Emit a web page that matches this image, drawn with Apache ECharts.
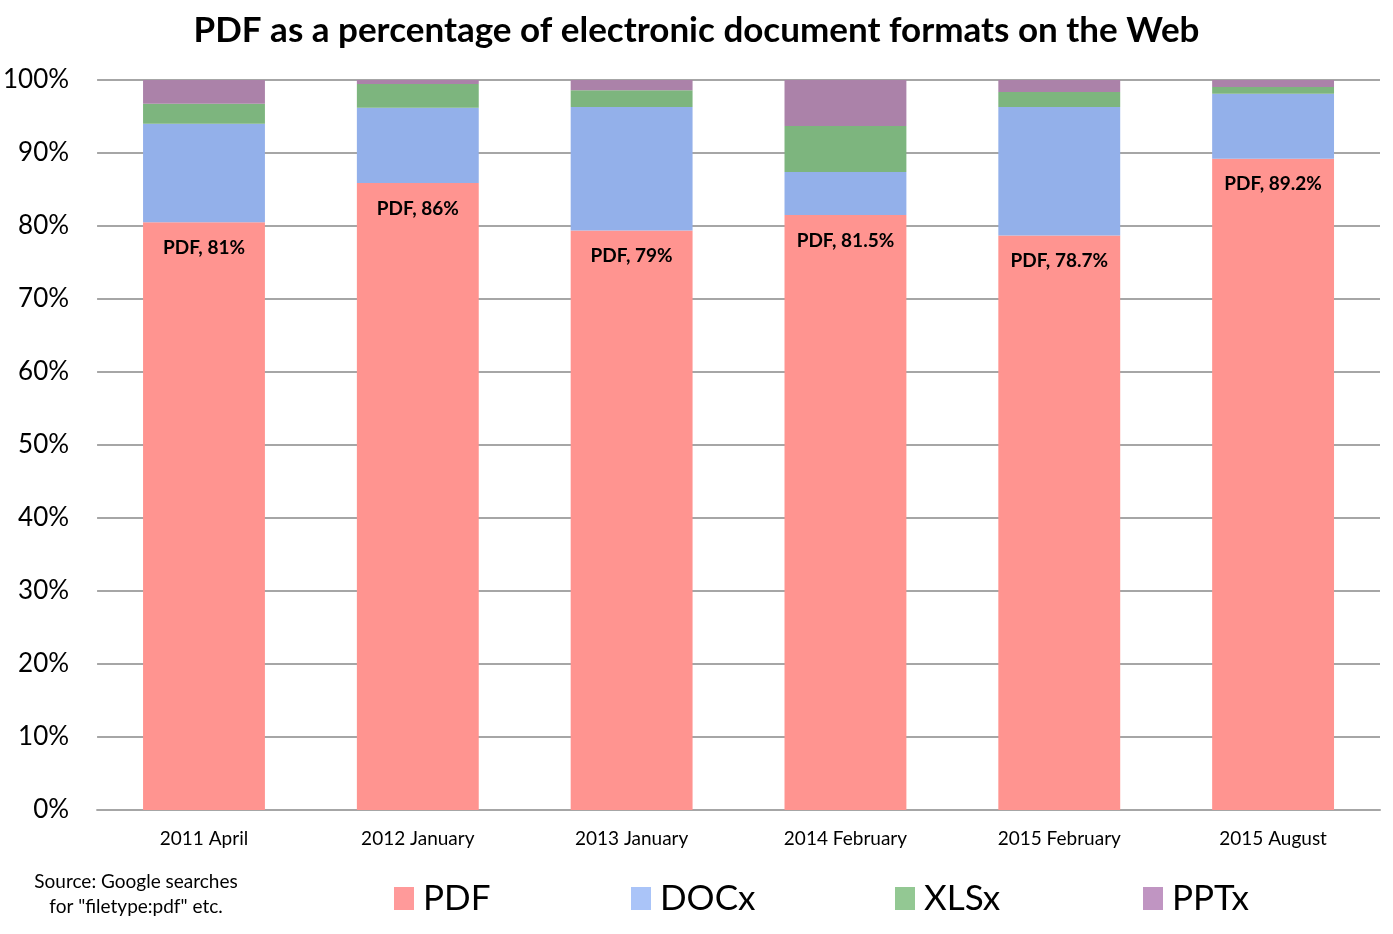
<!DOCTYPE html>
<html lang="en">
    <head>
        <meta charset="UTF-8">
        <title>PDF share of document formats</title>
        <script src="https://cdn.jsdelivr.net/npm/echarts@6/dist/echarts.min.js"></script>
        <style>
            html, body { margin: 0; padding: 0; background: #fff; }
        </style>
    </head>
    <body>
        <div id="main" style="width: 1393px;height:934px;"></div>
        <script>
            var dates = ['2011 April', '2012 January', '2013 January', '2014 February', '2015 February', '2015 August'];
            var pdf  = [80.5, 85.9, 79.4, 81.5, 78.7, 89.2];
            var docx = [13.5, 10.3, 16.9, 5.9, 17.6, 8.9];
            var xlsx = [2.75, 3.25, 2.3, 6.3, 2.05, 0.94];
            var pptx = [3.25, 0.55, 1.4, 6.3, 1.65, 0.96];
            var pdfLabels = ['81%', '86%', '79%', '81.5%', '78.7%', '89.2%'];
            var yTicks = [0, 10, 20, 30, 40, 50, 60, 70, 80, 90, 100];

            var font = 'Lato';
            var myChart = echarts.init(document.getElementById('main'));

            // one legend per entry so each can sit where the original put it
            function legendAt(name, color, left) {
                return {
                    data: [{ name: name, itemStyle: { color: color } }],
                    left: left, top: 876,
                    icon: 'rect', itemWidth: 20, itemHeight: 23, itemGap: 0,
                    textStyle: { fontFamily: font, fontSize: 35, color: '#000', padding: [0, 0, 0, 4] }
                };
            }

            var option = {
                animation: false,
                title: {
                    text: 'PDF as a percentage of electronic document formats on the Web',
                    left: 'center', top: 8,
                    textStyle: { fontFamily: font, fontWeight: 'bold', fontSize: 35, color: '#000' }
                },
                legend: [
                    legendAt('PDF', '#ff9a9a', 389),
                    legendAt('DOCx', '#aac4f8', 626),
                    legendAt('XLSx', '#93c893', 890),
                    legendAt('PPTx', '#c095c2', 1138)
                ],
                graphic: [{
                    type: 'text', x: 136, y: 869,
                    style: {
                        text: 'Source: Google searches\nfor "filetype:pdf" etc.',
                        font: '19px Lato', fill: '#000', align: 'center', lineHeight: 25
                    }
                }],
                grid: { left: 97, right: 13, top: 80, bottom: 124 },
                xAxis: {
                    type: 'category',
                    data: dates,
                    axisTick: { show: false },
                    axisLine: { lineStyle: { color: '#a6a6a6', width: 2 } },
                    axisLabel: { fontFamily: font, fontSize: 19, color: '#000', margin: 19 }
                },
                yAxis: {
                    type: 'value',
                    min: 0, max: 100, interval: 10,
                    axisLine: { show: false },
                    axisTick: { show: false },
                    splitLine: { lineStyle: { color: '#a6a6a6', width: 2 } },
                    axisLabel: {
                        fontFamily: font, fontSize: 26, color: '#000', margin: 28,
                        padding: [6, 0, 0, 0],
                        formatter: function (v) { return yTicks.indexOf(v) >= 0 ? v + '%' : ''; }
                    }
                },
                series: [{
                    name: 'PDF', type: 'bar', stack: 'all', barWidth: '57%',
                    itemStyle: { color: '#ff9490' },
                    label: {
                        show: true, position: 'insideTop', distance: 16,
                        fontFamily: font, fontWeight: 'bold', fontSize: 19, color: '#000',
                        formatter: function (p) { return 'PDF, ' + pdfLabels[p.dataIndex]; }
                    },
                    data: pdf
                }, {
                    name: 'DOCx', type: 'bar', stack: 'all',
                    itemStyle: { color: '#93b0ea' },
                    data: docx
                }, {
                    name: 'XLSx', type: 'bar', stack: 'all',
                    itemStyle: { color: '#7db57e' },
                    data: xlsx
                }, {
                    name: 'PPTx', type: 'bar', stack: 'all',
                    itemStyle: { color: '#ab82a9' },
                    data: pptx
                }]
            };

            myChart.setOption(option);
        </script>
    </body>
</html>
